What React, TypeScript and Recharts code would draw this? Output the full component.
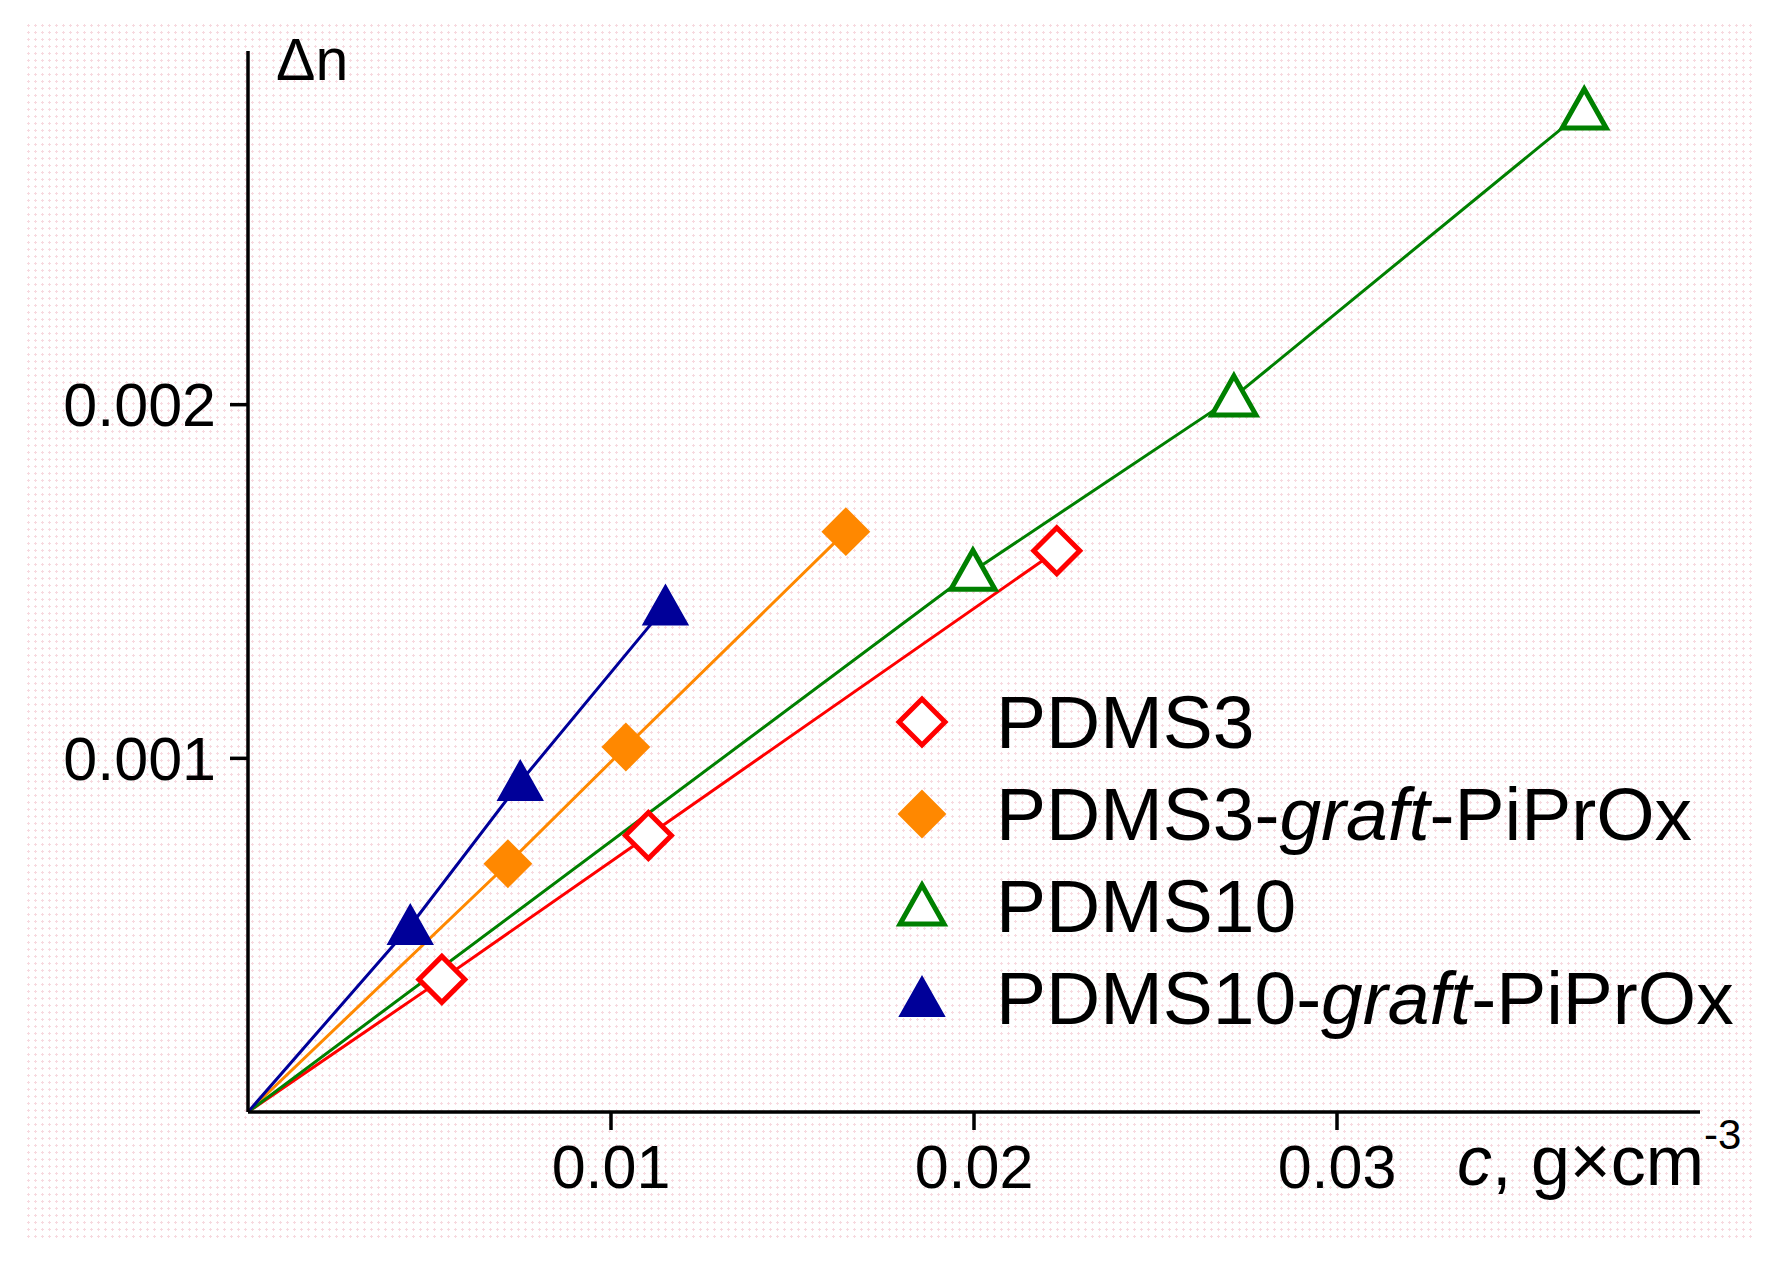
import React from 'react';
import {
  LineChart, Line, XAxis, YAxis, Legend,
} from 'recharts';

// concentration c (g/cm^3) and birefringence increment Δn, origin included for the fit lines
const cPDMS3 = [0, 0.00534, 0.01103, 0.02228];
const dnPDMS3 = [0, 0.000375, 0.000782, 0.001587];

const cPDMS3graft = [0, 0.00716, 0.01041, 0.01647];
const dnPDMS3graft = [0, 0.000702, 0.001032, 0.001641];

const cPDMS10 = [0, 0.01997, 0.02716, 0.03681];
const dnPDMS10 = [0, 0.001529, 0.002022, 0.002833];

const cPDMS10graft = [0, 0.00447, 0.0075, 0.0115];
const dnPDMS10graft = [0, 0.000526, 0.000933, 0.001429];

const xTicks = [0.01, 0.02, 0.03];
const yTicks = [0.001, 0.002];

const FONT = '"Liberation Sans", Arial, sans-serif';

type Marker = 'diamondOpen' | 'diamondFilled' | 'triangleOpen' | 'triangleFilled';

interface Series {
  key: string,
  name: string,
  graft: boolean,
  color: string,
  marker: Marker,
  c: number[],
  dn: number[],
};

const series: Series[] = [
  { key: 'pdms3', name: 'PDMS3', graft: false, color: '#ff0000', marker: 'diamondOpen', c: cPDMS3, dn: dnPDMS3 },
  { key: 'pdms3g', name: 'PDMS3', graft: true, color: '#ff8800', marker: 'diamondFilled', c: cPDMS3graft, dn: dnPDMS3graft },
  { key: 'pdms10', name: 'PDMS10', graft: false, color: '#008000', marker: 'triangleOpen', c: cPDMS10, dn: dnPDMS10 },
  { key: 'pdms10g', name: 'PDMS10', graft: true, color: '#000099', marker: 'triangleFilled', c: cPDMS10graft, dn: dnPDMS10graft },
];

const toPoints = (c: number[], dn: number[]) => c.map((v, i) => ({ c: v, dn: dn[i] }));

const markerShape = (kind: Marker, color: string, cx: number, cy: number, key?: string) => {
  if (kind === 'diamondOpen' || kind === 'diamondFilled') {
    const r = 23;
    const d = `M${cx},${cy - r} L${cx + r},${cy} L${cx},${cy + r} L${cx - r},${cy} Z`;
    return kind === 'diamondOpen'
      ? <path key={key} d={d} fill="#ffffff" stroke={color} strokeWidth={5} />
      : <path key={key} d={d} fill={color} stroke={color} strokeWidth={2} />;
  }
  const hw = 22;
  const d = `M${cx},${cy - 21} L${cx + hw},${cy + 18} L${cx - hw},${cy + 18} Z`;
  return kind === 'triangleOpen'
    ? <path key={key} d={d} fill="#ffffff" stroke={color} strokeWidth={5} strokeLinejoin="miter" />
    : <path key={key} d={d} fill={color} stroke={color} strokeWidth={2} />;
};

const legendContent = () => (
  <div style={{ fontFamily: FONT, fontSize: 75, color: '#000' }}>
    {series.map(s => (
      <div key={s.key} style={{ display: 'flex', alignItems: 'center', height: 92, whiteSpace: 'nowrap' }}>
        <svg width={54} height={54} style={{ marginRight: 47 }}>
          {markerShape(s.marker, s.color, 27, 27)}
        </svg>
        <span style={{ lineHeight: '92px' }}>
          {s.name}
          {s.graft && <>-<i>graft</i>-PiPrOx</>}
        </span>
      </div>
    ))}
  </div>
);

const YTitle = (props: any) => {
  const { viewBox } = props;
  return (
    <text x={viewBox.x + viewBox.width + 28} y={viewBox.y + 29} fontFamily={FONT} fontSize={59} fill="#000">
      Δn
    </text>
  );
};

const XTitle = (props: any) => {
  const { viewBox } = props;
  return (
    <text x={viewBox.x + viewBox.width - 243} y={viewBox.y + 73} fontFamily={FONT} fontSize={70} fill="#000">
      <tspan fontStyle="italic">c</tspan>
      <tspan>, g×cm</tspan>
      <tspan dy={-36} fontSize={42}>-3</tspan>
    </text>
  );
};

export default (): React.ReactElement => {
  const axisStyle = { stroke: '#000', strokeWidth: 3.5 };
  const tickStyle = { fontFamily: FONT, fontSize: 61, fill: '#000' };

  return (
    <div style={{ position: 'absolute', left: 0, top: 0, width: 1781, height: 1266, background: '#fff' }}>
      <div
        style={{
          position: 'absolute', left: 25, top: 22, width: 1727, height: 1217,
          backgroundImage: 'radial-gradient(circle, #f7d9df 1px, transparent 1.3px)',
          backgroundSize: '7px 7px',
        }}
      />
      <div style={{ position: 'absolute', left: 0, top: 0 }}>
        <LineChart width={1781} height={1266} margin={{ top: 51, right: 81, left: 0, bottom: 0 }}>
          <XAxis
            dataKey="c"
            type="number"
            domain={[0, 0.04]}
            ticks={xTicks}
            height={154}
            tickSize={18}
            tickMargin={15}
            axisLine={axisStyle}
            tickLine={axisStyle}
            tick={tickStyle}
            allowDataOverflow
            label={<XTitle />}
          />
          <YAxis
            dataKey="dn"
            type="number"
            domain={[0, 0.003]}
            ticks={yTicks}
            width={248}
            tickSize={18}
            tickMargin={14}
            axisLine={axisStyle}
            tickLine={axisStyle}
            tick={tickStyle}
            allowDataOverflow
            label={<YTitle />}
          />
          <Legend
            layout="horizontal"
            verticalAlign="middle"
            align="center"
            content={legendContent}
            wrapperStyle={{ position: 'absolute', left: 895, top: 676, width: 860, height: 370 }}
          />
          {series.map(s => (
            <Line
              key={s.key}
              data={toPoints(s.c, s.dn)}
              dataKey="dn"
              type="linear"
              stroke={s.color}
              strokeWidth={3}
              isAnimationActive={false}
              dot={(p: any) => (p.index === 0
                ? <g key={`${s.key}-${p.index}`} />
                : markerShape(s.marker, s.color, p.cx, p.cy, `${s.key}-${p.index}`))}
              activeDot={false}
            />
          ))}
        </LineChart>
      </div>
    </div>
  );
}
